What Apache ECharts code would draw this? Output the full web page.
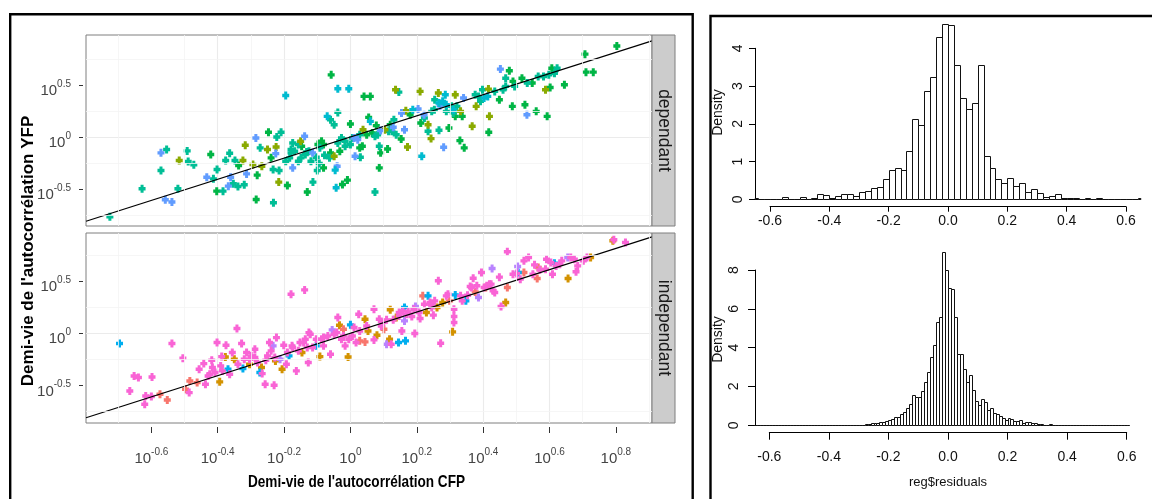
<!DOCTYPE html>
<html><head><meta charset="utf-8">
<script src="https://cdn.jsdelivr.net/npm/echarts@6/dist/echarts.min.js"></script>
<style>html,body{margin:0;padding:0;background:#fff}#c{width:1152px;height:499px}</style>
</head><body><div id="c"></div><script>
// ---------- DATA (log10 values) ----------
const depGreen = [[-0.421,-0.169],[-0.403,-0.521],[-0.337,-0.275],[-0.281,-0.367],[-0.284,-0.601],[-0.247,0.045],[-0.239,-0.201],[-0.19,-0.466],[-0.147,-0.089],[-0.13,-0.53],[-0.087,-0.042],[-0.06,-0.153],[-0.058,0.597],[-0.024,-0.457],[-0.009,-0.415],[0.0,0.125],[0.036,-0.089],[0.041,0.39],[0.06,0.39],[0.055,0.188],[0.078,0.109],[0.091,-0.153],[0.087,-0.297],[0.112,-0.115],[0.153,-0.019],[0.212,0.134],[0.297,0.086],[0.316,0.198],[0.337,0.198],[0.33,-0.035],[0.343,-0.105],[0.417,0.045],[0.449,0.358],[0.479,0.636],[0.488,0.294],[0.49,0.534],[0.517,0.565],[0.526,0.31],[0.548,0.518],[0.56,0.246],[0.593,0.198],[0.602,0.476],[0.607,0.661],[0.645,0.502],[0.707,0.796],[0.71,0.623],[0.732,0.623],[0.803,0.875],[-0.098,-0.073],[0.049,0.022],[0.066,0.038],[0.12,0.118],[-0.081,-0.073],[0.18,0.214],[-0.081,-0.297],[-0.032,-0.137],[0.028,-0.105]];
const depTeal = [[-0.725,-0.767],[-0.628,-0.498],[-0.554,-0.121],[-0.571,-0.323],[-0.492,-0.134],[-0.489,-0.236],[-0.472,-0.268],[-0.52,-0.498],[-0.413,-0.403],[-0.402,-0.313],[-0.384,-0.521],[-0.376,-0.227],[-0.364,-0.157],[-0.353,-0.45],[-0.339,-0.476],[-0.32,-0.46],[-0.348,-0.227],[-0.272,-0.105],[-0.222,0],[-0.209,0.045],[-0.233,-0.313],[-0.215,-0.323],[-0.232,-0.633],[-0.195,-0.233],[-0.174,-0.058],[-0.179,-0.121],[-0.183,-0.201],[-0.157,-0.233],[-0.132,-0.144],[-0.119,-0.233],[-0.113,-0.434],[-0.1,-0.323],[-0.094,-0.256],[-0.078,-0.176],[-0.06,0.166],[-0.049,0.118],[-0.038,0.236],[-0.027,-0.01],[-0.016,-0.089],[0.006,-0.01],[0.03,-0.195],[0.074,0.006],[0.087,-0.089],[0.074,-0.53],[0.125,0.054],[0.131,0.166],[0.138,0.022],[0.146,0.431],[0.234,0.054],[0.253,0.262],[0.254,0.358],[0.267,0.064],[0.289,0.246],[0.305,0.294],[0.31,0.23],[0.376,0.406],[0.392,0.342],[0.398,0.454],[0.435,0.438],[0.468,0.565],[0.468,0.486],[0.46,0.454],[0.495,0.486],[0.533,0.518],[0.566,0.581],[0.582,0.581],[0.598,0.597],[0.615,0.613],[0.623,0.661],[-0.136,-0.169],[-0.125,-0.137],[-0.038,-0.058],[-0.016,-0.042],[0.028,0.022],[0.082,0.022],[0.115,0.054],[0.386,0.39],[0.321,0.294],[-0.179,-0.153],[-0.168,-0.137],[-0.092,-0.105],[0.223,0.182],[0.245,0.246],[-0.157,-0.073],[-0.149,-0.201],[-0.103,-0.195],[-0.063,-0.201],[0.0,-0.073]];
const depCyan = [[-0.07,0.198],[-0.038,0.463],[-0.005,0.463],[-0.195,0.399],[-0.046,-0.319],[-0.043,-0.489],[0.06,0.15],[0.188,0.262],[0.215,-0.185],[0.286,0.406],[0.414,0.39],[0.403,0.374],[0.31,0.262],[0.267,0.326],[0.278,0.342],[0.289,0.31]];
const depBlue = [[-0.558,-0.604],[-0.538,-0.626],[-0.571,-0.153],[-0.433,-0.387],[-0.361,-0.387],[-0.368,-0.473],[-0.313,-0.355],[-0.285,-0.01],[-0.225,-0.16],[-0.174,-0.297],[-0.138,0.006],[-0.114,-0.153],[-0.04,-0.281],[0.014,-0.185],[0.091,0.061],[0.129,0.093],[0.163,0.07],[0.154,0.23],[0.204,0.268],[0.222,0.214],[0.281,-0.099],[0.27,0.3],[0.341,0.374],[0.452,0.652],[0.532,0.214],[0.011,-0.01],[0.022,-0.026]];
const depOlive = [[-0.516,-0.227],[-0.317,-0.08],[-0.324,-0.227],[-0.294,-0.265],[-0.267,-0.281],[-0.25,-0.121],[-0.224,-0.096],[-0.216,-0.434],[-0.15,-0.042],[-0.049,-0.185],[0.038,0.07],[0.104,0.07],[0.167,0.252],[0.172,-0.096],[0.136,0.454],[0.21,0.438],[0.243,-0.016],[0.234,0.118],[0.265,0.422],[0.316,0.406],[0.332,0.246],[0.367,0.102],[0.379,0.294],[0.416,0.46],[0.419,0.198],[0.588,0.454]];

const indPink = [[-0.665,-0.553],[-0.652,-0.409],[-0.639,-0.425],[-0.62,-0.681],[-0.617,-0.601],[-0.598,-0.419],[-0.6,-0.607],[-0.538,-0.099],[-0.505,-0.24],[-0.486,-0.569],[-0.456,-0.345],[-0.442,-0.291],[-0.437,-0.489],[-0.418,-0.259],[-0.416,-0.329],[-0.424,-0.393],[-0.402,-0.089],[-0.386,-0.361],[-0.388,-0.224],[-0.375,-0.115],[-0.364,-0.393],[-0.356,-0.185],[-0.342,0.045],[-0.339,-0.297],[-0.328,-0.099],[-0.32,-0.249],[-0.313,-0.185],[-0.299,-0.217],[-0.288,-0.153],[-0.28,-0.281],[-0.266,-0.387],[-0.257,-0.489],[-0.255,-0.259],[-0.244,-0.089],[-0.239,-0.169],[-0.23,-0.498],[-0.223,-0.042],[-0.201,-0.115],[-0.193,-0.297],[-0.179,0.374],[-0.176,-0.121],[-0.163,-0.361],[-0.157,-0.169],[-0.138,0.415],[-0.141,-0.089],[-0.127,-0.281],[-0.121,-0.01],[-0.114,-0.137],[-0.087,-0.058],[-0.081,-0.121],[-0.068,-0.026],[-0.06,-0.201],[-0.041,0.006],[-0.038,0.15],[-0.027,-0.058],[-0.016,-0.121],[0.006,-0.026],[0.011,0.054],[0.025,0.182],[0.071,0.23],[0.071,-0.064],[0.087,0.134],[0.093,0.07],[0.123,-0.105],[0.129,0.128],[0.147,0.198],[0.155,0.022],[0.174,0.204],[0.185,0.16],[0.194,-0.003],[0.21,0.141],[0.243,0.278],[0.25,0.173],[0.254,0.31],[0.265,0.502],[0.272,-0.096],[0.294,0.374],[0.312,0.23],[0.312,0.102],[0.332,0.358],[0.337,0.31],[0.353,0.364],[0.361,0.447],[0.37,0.527],[0.395,0.581],[0.403,0.438],[0.411,0.454],[0.419,0.47],[0.43,0.406],[0.435,0.39],[0.449,0.537],[0.454,0.256],[0.473,0.78],[0.49,0.565],[0.512,0.518],[0.523,0.693],[0.537,0.725],[0.55,0.565],[0.555,0.655],[0.571,0.607],[0.588,0.613],[0.591,0.709],[0.609,0.565],[0.62,0.645],[0.631,0.661],[0.675,0.709],[0.68,0.588],[0.685,0.645],[0.702,0.693],[0.794,0.895],[0.829,0.869],[-0.429,-0.409],[-0.408,-0.377],[-0.391,-0.313],[-0.304,-0.249],[-0.288,-0.233],[-0.25,-0.217],[-0.228,-0.233],[-0.19,-0.185],[-0.174,-0.137],[-0.152,-0.089],[-0.136,-0.058],[-0.13,-0.137],[-0.125,0.006],[-0.103,-0.058],[-0.081,-0.042],[-0.049,-0.01],[-0.021,-0.026],[-0.005,-0.058],[0.017,-0.089],[0.028,0.022],[0.049,0.07],[0.098,0.102],[0.109,0.128],[0.147,0.166],[0.158,0.214],[0.169,0.182],[0.191,0.23],[0.207,0.198],[0.223,0.278],[0.24,0.294],[0.245,0.246],[0.289,0.358],[0.365,0.438],[0.381,0.454],[0.424,0.47],[0.501,0.572],[0.604,0.677],[0.637,0.693],[0.664,0.725],[0.713,0.725],[0.312,0.16]];
const indSalmon = [[-0.574,-0.585],[-0.552,-0.639],[-0.497,-0.537],[-0.484,-0.457],[-0.462,-0.473],[-0.021,0.038],[0.028,-0.073],[0.044,-0.083],[0.101,0.038],[0.218,0.358],[0.299,0.31],[0.376,0.396],[0.473,0.438],[0.523,0.581],[0.563,0.524],[0.408,0.438],[0.566,0.629]];
const indOrange = [[-0.394,-0.466],[-0.377,-0.227],[-0.35,-0.249],[-0.304,-0.297],[-0.268,-0.329],[-0.226,-0.265],[-0.206,-0.345],[-0.146,-0.185],[-0.092,-0.224],[-0.033,0.077],[-0.007,-0.227],[0.044,0.134],[0.053,0.022],[0.08,-0.019],[0.118,-0.058],[0.12,0.224],[0.138,0.15],[0.229,0.198],[0.261,0.246],[0.278,0.294],[0.308,0.013],[0.468,0.294],[0.656,0.524],[0.724,0.725],[0.791,0.885]];
const indBlue = [[-0.696,-0.099],[-0.369,-0.345],[-0.324,-0.339],[-0.273,-0.377],[-0.185,-0.217],[-0.103,-0.121],[0.0,0.08],[0.145,-0.089],[0.163,0.246],[0.166,-0.073],[0.234,0.358],[0.316,0.367],[0.348,0.31],[0.506,0.581],[0.615,0.671]];
const indPurple = [[-0.233,-0.121],[-0.055,0.032],[0.109,-0.105],[0.163,0.118],[0.196,0.256],[0.386,0.342],[0.427,0.62],[0.504,0.639],[0.655,0.725],[-0.212,-0.249]];

const fitLine = [[-0.797,-0.81],[0.909,0.923]];
const xTickValues = [-0.6,-0.4,-0.2,0,0.2,0.4,0.6,0.8];
const yTickValues = [-0.5,0,0.5];
const xMinorLines = [-0.7,-0.5,-0.3,-0.1,0.1,0.3,0.5,0.7,0.9];
const yMinorLines = [-0.75,-0.25,0.25,0.75];
const panelNames = ['dependant','independant'];

// histograms: densities per bin
const topBinStart = -0.66, topBinWidth = 0.02;
const topDensity = [0.03,0.01,0.01,0,0.02,0.05,0.01,0.02,0.05,0.02,
  0.03,0.14,0.11,0.04,0.10,0.14,0.14,0.10,0.19,0.21,
  0.30,0.33,0.53,0.77,0.83,0.77,1.29,2.13,1.97,2.88,
  3.23,4.29,4.64,4.62,3.55,2.69,2.38,2.56,3.55,1.14,
  0.83,0.53,0.44,0.57,0.36,0.44,0.19,0.26,0.18,0.05,
  0.10,0.15,0.04,0.04,0.04,0.02,0.03,0.02,0.03,0.02,
  0,0.01,0.01,0,0.02,0.03];
const botBinStart = -0.65, botBinWidth = 0.01;
const botDensity = [0.03,0.02,0.01,0.02,0,0.03,0.01,0.02,0.01,0.03,
  0,0.02,0.01,0.03,0.01,0.02,0.03,0.01,0.02,0.03,
  0.01,0.02,0.01,0.02,0.03,0.02,0.03,0.02,0.03,0.02,
  0.03,0.02,0.03,0.02,0.02,0.03,0.04,0.05,
  0.05,0.14,0.10,0.12,0.15,0.17,0.24,0.26,0.31,0.41,
  0.41,0.58,0.69,0.91,1.12,1.56,1.48,1.46,1.77,2.25,
  2.73,3.5,4.14,5.3,5.58,8.94,8.0,7.06,7.0,5.58,
  3.67,3.67,2.92,2.21,2.58,1.80,1.25,1.06,1.36,1.22,
  0.77,0.89,0.64,0.57,0.48,0.36,0.29,0.38,0.31,0.24,
  0.21,0.26,0.14,0.15,0.15,0.10,0.10,0.07,0.05,
  0.04,0.03,0.05,0.03,0.04,0.02,0.03,0.02,0.03,0.04,
  0.02,0.03,0.01,0.02,0.03,0.02,0.01,0.02,0.03,0.01,
  0.02,0.01,0.02,0.01,0,0.02,0.01,0.03,0.02];

// ---------- CHART ----------
const SANS = "'Liberation Sans',Arial,sans-serif";
const plusSym = 'path://M2,0L5,0L5,2L7,2L7,5L5,5L5,7L2,7L2,5L0,5L0,2L2,2Z';

function bins(start, width, dens) {
  return dens.map((d, i) => [start + i * width, start + (i + 1) * width, d]);
}
function histRender(params, api) {
  const a = api.coord([api.value(0), api.value(2)]);
  const b = api.coord([api.value(1), 0]);
  const x0 = Math.round(a[0]) + 0.5, x1 = Math.round(b[0]) + 0.5;
  const y0 = Math.round(a[1]) + 0.5, y1 = Math.round(b[1]) + 0.5;
  const cs = params.coordSys;
  const shape = echarts.graphic.clipRectByRect(
    {x: x0, y: y0, width: x1 - x0, height: y1 - y0},
    {x: cs.x, y: cs.y - 1, width: cs.width, height: cs.height + 2});
  if (!shape) return null;
  return {type: 'rect', shape: shape, style: {fill: '#fff', stroke: '#111', lineWidth: 1}};
}
function powFmt(v) {
  const r = Math.round(v * 10) / 10;
  return '{b|10}{s|' + r + '}';
}
const richY = {
  b: {fontSize: 15, fontFamily: SANS, color: '#444', padding: [12, 0, 0, 0]},
  s: {fontSize: 10, fontFamily: SANS, color: '#444', padding: [7.5, 0, 9.5, 0]}
};
const richX = {
  b: {fontSize: 15, fontFamily: SANS, color: '#444', padding: [4.5, 0, 0, 0]},
  s: {fontSize: 10, fontFamily: SANS, color: '#444', padding: [0, 0, 9.5, 0]}
};

const gridBase = {containLabel: false, outerBoundsMode: 'none'};
const grids = [
  Object.assign({left: 86, top: 35, width: 566, height: 191, show: true, backgroundColor: '#fff', borderColor: '#7f7f7f', borderWidth: 1}, gridBase),
  Object.assign({left: 86, top: 233, width: 566, height: 190, show: true, backgroundColor: '#fff', borderColor: '#7f7f7f', borderWidth: 1}, gridBase),
  Object.assign({left: 755.1, top: 18.1, width: 385.8, height: 181.2}, gridBase),
  Object.assign({left: 770, top: 48.3, width: 356, height: 151}, gridBase),
  Object.assign({left: 754.4, top: 246.6, width: 375.2, height: 178.7}, gridBase),
  Object.assign({left: 769.3, top: 270, width: 357.4, height: 155.3}, gridBase)
];

const splitMajor = {show: true, showMinLine: false, showMaxLine: false, lineStyle: {color: '#ebebeb', width: 1.1}};
const hidden = {show: false};
const noLine = {show: false, onZero: false};
const blackLine = {show: true, onZero: false, lineStyle: {color: '#000', width: 1}};
const xAxes = [
  {type: 'value', gridIndex: 0, min: -0.797, max: 0.909, splitNumber: 8, axisLine: noLine,
    axisTick: {show: false, customValues: xTickValues}, axisLabel: {show: false, customValues: xTickValues}, splitLine: splitMajor},
  {type: 'value', gridIndex: 1, min: -0.797, max: 0.909, splitNumber: 8, offset: 4, axisLine: noLine,
    axisTick: {show: true, length: 6, customValues: xTickValues, lineStyle: {color: '#333', width: 1}},
    axisLabel: {show: true, margin: 20, customValues: xTickValues, formatter: powFmt, rich: richX}, splitLine: splitMajor},
  {type: 'value', gridIndex: 2, min: -0.65, max: 0.65, show: false, axisLine: noLine},
  {type: 'value', gridIndex: 3, min: -0.6, max: 0.6, interval: 0.2, offset: 7.4,
    axisLine: blackLine,
    axisTick: {show: true, length: 5, lineStyle: {color: '#000', width: 1}},
    axisLabel: {show: true, margin: 7, fontSize: 14, fontFamily: SANS, color: '#111', formatter: v => v.toFixed(1)},
    splitLine: hidden},
  {type: 'value', gridIndex: 4, min: -0.65, max: 0.61, show: false, axisLine: noLine},
  {type: 'value', gridIndex: 5, min: -0.6, max: 0.6, interval: 0.2, offset: 7.4,
    axisLine: blackLine,
    axisTick: {show: true, length: 7, lineStyle: {color: '#000', width: 1}},
    axisLabel: {show: true, margin: 17, fontSize: 14, fontFamily: SANS, color: '#111', formatter: v => v.toFixed(1)},
    splitLine: hidden}
];
const yAxes = [
  {type: 'value', gridIndex: 0, min: -0.856, max: 0.98, splitNumber: 4, offset: 3, axisLine: noLine,
    axisTick: {show: true, length: 4, customValues: yTickValues, lineStyle: {color: '#333', width: 1}},
    axisLabel: {show: true, margin: 12, customValues: yTickValues, formatter: powFmt, rich: richY}, splitLine: splitMajor},
  {type: 'value', gridIndex: 1, min: -0.86, max: 0.96, splitNumber: 4, offset: 3, axisLine: noLine,
    axisTick: {show: true, length: 4, customValues: yTickValues, lineStyle: {color: '#333', width: 1}},
    axisLabel: {show: true, margin: 12, customValues: yTickValues, formatter: powFmt, rich: richY}, splitLine: splitMajor},
  {type: 'value', gridIndex: 2, min: 0, max: 4.8, show: false, axisLine: noLine},
  {type: 'value', gridIndex: 3, min: 0, max: 4, interval: 1, offset: 15,
    axisLine: blackLine,
    axisTick: {show: true, length: 6, lineStyle: {color: '#000', width: 1}},
    axisLabel: {show: true, rotate: 90, margin: 10, fontSize: 14, fontFamily: SANS, color: '#111'},
    splitLine: hidden},
  {type: 'value', gridIndex: 4, min: 0, max: 9.2, show: false, axisLine: noLine},
  {type: 'value', gridIndex: 5, min: 0, max: 8, interval: 2, offset: 14.3,
    axisLine: blackLine,
    axisTick: {show: true, length: 7, lineStyle: {color: '#000', width: 1}},
    axisLabel: {show: true, rotate: 90, margin: 14, fontSize: 14, fontFamily: SANS, color: '#111'},
    splitLine: hidden}
];

const series = [];
function minorSeries(gi) {
  return {type: 'scatter', xAxisIndex: gi, yAxisIndex: gi, data: [], z: 1, silent: true,
    markLine: {silent: true, symbol: ['none', 'none'], animation: false, label: {show: false},
      lineStyle: {color: '#f4f4f4', width: 0.8, type: 'solid'}, emphasis: {disabled: true},
      data: xMinorLines.map(v => ({xAxis: v})).concat(yMinorLines.map(v => ({yAxis: v})))}};
}
series.push(minorSeries(0), minorSeries(1));
const depGroups = [[depGreen, '#00B545'], [depTeal, '#00BE96'], [depOlive, '#8AAA00'], [depBlue, '#619CFF'], [depCyan, '#00BBD0']];
const indGroups = [[indOrange, '#D39200'], [indSalmon, '#F8766D'], [indBlue, '#00AEEF'], [indPurple, '#B983FF'], [indPink, '#F964D5']];
depGroups.forEach(g => series.push({type: 'scatter', xAxisIndex: 0, yAxisIndex: 0, data: g[0], symbol: plusSym, symbolSize: [7, 8], itemStyle: {color: g[1], opacity: 1}, z: 3}));
indGroups.forEach(g => series.push({type: 'scatter', xAxisIndex: 1, yAxisIndex: 1, data: g[0], symbol: plusSym, symbolSize: [7, 8], itemStyle: {color: g[1], opacity: 1}, z: 3}));
[0, 1].forEach(gi => series.push({type: 'line', xAxisIndex: gi, yAxisIndex: gi, data: fitLine, symbol: 'none', clip: true, lineStyle: {color: '#000', width: 1.2}, z: 4}));
series.push({type: 'custom', xAxisIndex: 2, yAxisIndex: 2, data: bins(topBinStart, topBinWidth, topDensity), renderItem: histRender, z: 2});
series.push({type: 'custom', xAxisIndex: 4, yAxisIndex: 4, data: bins(botBinStart, botBinWidth, botDensity), renderItem: histRender, z: 2});

const graphics = [
  {type: 'rect', shape: {x: 10.2, y: 14.3, width: 682.5, height: 600}, style: {fill: 'none', stroke: '#000', lineWidth: 2.4}, z: 10},
  {type: 'rect', shape: {x: 710.5, y: 16, width: 600, height: 600}, style: {fill: 'none', stroke: '#000', lineWidth: 2.4}, z: 10},
  {type: 'rect', shape: {x: 652, y: 35, width: 23, height: 191}, style: {fill: '#cccccc', stroke: '#7f7f7f', lineWidth: 1}, z: 5},
  {type: 'rect', shape: {x: 652, y: 233, width: 23, height: 190}, style: {fill: '#cccccc', stroke: '#7f7f7f', lineWidth: 1}, z: 5},
  {type: 'text', x: 663.5, y: 130.5, rotation: -Math.PI / 2, z: 6, style: {text: panelNames[0], fontSize: 17.5, fontFamily: SANS, fill: '#1a1a1a', align: 'center', verticalAlign: 'middle'}},
  {type: 'text', x: 663.5, y: 328, rotation: -Math.PI / 2, z: 6, style: {text: panelNames[1], fontSize: 17.5, fontFamily: SANS, fill: '#1a1a1a', align: 'center', verticalAlign: 'middle'}},
  {type: 'text', x: 28, y: 251, rotation: Math.PI / 2, z: 6, style: {text: "Demi-vie de l'autocorrélation YFP", fontSize: 17, fontWeight: 'bold', fontFamily: SANS, fill: '#000', align: 'center', verticalAlign: 'middle'}},
  {type: 'text', x: 356.5, y: 482, scaleX: 0.8, z: 6, style: {text: "Demi-vie de l'autocorrélation CFP", fontSize: 17, fontWeight: 'bold', fontFamily: SANS, fill: '#000', align: 'center', verticalAlign: 'middle'}},
  {type: 'text', x: 718, y: 112.5, rotation: Math.PI / 2, z: 6, style: {text: 'Density', fontSize: 14, fontFamily: SANS, fill: '#111', align: 'center', verticalAlign: 'middle'}},
  {type: 'text', x: 718, y: 339.5, rotation: Math.PI / 2, z: 6, style: {text: 'Density', fontSize: 14, fontFamily: SANS, fill: '#111', align: 'center', verticalAlign: 'middle'}},
  {type: 'text', x: 948, y: 482.5, z: 6, style: {text: 'reg$residuals', fontSize: 13, fontFamily: SANS, fill: '#111', align: 'center', verticalAlign: 'middle'}}
];

const chart = echarts.init(document.getElementById('c'), null, {renderer: 'canvas'});
chart.setOption({
  animation: false,
  backgroundColor: '#fff',
  grid: grids,
  xAxis: xAxes,
  yAxis: yAxes,
  series: series,
  graphic: graphics
});
</script></body></html>
